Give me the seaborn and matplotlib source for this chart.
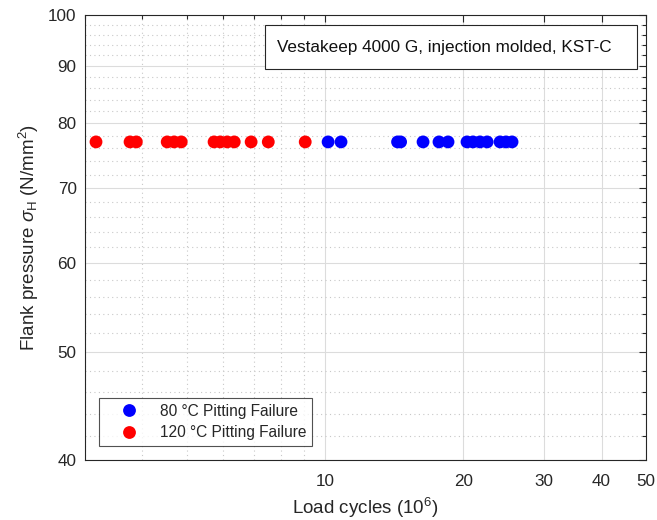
import numpy as np
import pandas as pd
import matplotlib
matplotlib.use('Agg')
import matplotlib.pyplot as plt
from matplotlib.patches import Rectangle
from matplotlib.ticker import FixedLocator, NullFormatter, FixedFormatter
import seaborn as sns

# Load cycles (10^6)
cycles_80 = [10.15, 10.83, 14.38, 14.6, 16.34, 17.7, 18.52, 20.37, 20.99, 21.74,
             22.53, 24.04, 24.77, 25.53]
cycles_120 = [3.17, 3.76, 3.88, 4.53, 4.69, 4.86, 5.73, 5.91, 6.12, 6.34, 6.9,
              7.52, 9.05]
pressure_80 = [77] * len(cycles_80)
pressure_120 = [77] * len(cycles_120)
labels = ['80 °C Pitting Failure', '120 °C Pitting Failure']

x_major = [10, 20, 30, 40, 50]
x_minor = [3, 4, 5, 6, 7, 8, 9]
y_major = [40, 50, 60, 70, 80, 90, 100]
y_minor = [v for v in range(42, 100, 2) if v % 10 != 0]

df = pd.DataFrame({
    'cycles': cycles_80 + cycles_120,
    'pressure': pressure_80 + pressure_120,
    'series': [labels[0]] * len(cycles_80) + [labels[1]] * len(cycles_120),
})

sns.set_style('white')
plt.rcParams['font.family'] = ['Liberation Sans', 'DejaVu Sans']
plt.rcParams['mathtext.fontset'] = 'custom'
plt.rcParams['mathtext.rm'] = 'Liberation Sans'
plt.rcParams['mathtext.it'] = 'Liberation Sans:italic'

fig = plt.figure(figsize=(6.57, 5.2), dpi=100)
ax = fig.add_axes([0.1294, 0.1154, 0.854, 0.8558])

sns.scatterplot(data=df, x='cycles', y='pressure', hue='series',
                palette={labels[0]: '#0000ff', labels[1]: '#ff0000'},
                hue_order=labels, s=85, linewidth=0, ax=ax, zorder=3)

ax.set_xscale('log')
ax.set_yscale('log')
ax.set_xlim(3, 50)
ax.set_ylim(40, 100)

ax.xaxis.set_major_locator(FixedLocator(x_major))
ax.xaxis.set_major_formatter(FixedFormatter([str(v) for v in x_major]))
ax.xaxis.set_minor_locator(FixedLocator(x_minor))
ax.xaxis.set_minor_formatter(NullFormatter())
ax.yaxis.set_major_locator(FixedLocator(y_major))
ax.yaxis.set_major_formatter(FixedFormatter([str(v) for v in y_major]))
ax.yaxis.set_minor_locator(FixedLocator(y_minor))
ax.yaxis.set_minor_formatter(NullFormatter())

ax.grid(True, which='major', color='#dcdcdc', linewidth=0.8, linestyle='-')
ax.grid(True, which='minor', color='#c8c8c8', linewidth=0.8, linestyle=(0, (1, 3)))
ax.set_axisbelow(True)

ax.tick_params(which='both', direction='in', top=True, right=True,
               labelsize=12.3, colors='#262626', width=0.8)
ax.tick_params(which='major', length=5)
ax.tick_params(which='minor', length=3)
ax.tick_params(axis='x', which='major', pad=10)
ax.tick_params(axis='y', which='major', pad=6)
for sp in ax.spines.values():
    sp.set_color('#262626')
    sp.set_linewidth(0.8)

ax.set_xlabel('Load cycles (10$^6$)', fontsize=13.5, color='#262626', labelpad=5)
ax.set_ylabel('Flank pressure $\\it{\\sigma}_\\mathrm{H}$ (N/mm$^2$)', fontsize=13.5,
              color='#262626', labelpad=5)

# annotation box (top right)
ax.add_patch(Rectangle((0.321, 0.879), 0.663, 0.099, transform=ax.transAxes,
                       facecolor='white', edgecolor='#262626', linewidth=0.8, zorder=4))
ax.text(0.342, 0.928, 'Vestakeep 4000 G, injection molded, KST-C', transform=ax.transAxes,
        ha='left', va='center', fontsize=12.3, color='#111111', zorder=5)

leg = ax.legend(loc='lower left', bbox_to_anchor=(0.025, 0.031), fontsize=11.2,
                frameon=True, fancybox=False, edgecolor='#262626',
                handletextpad=0.4, handlelength=3.1, borderpad=0.4,
                labelspacing=0.4, borderaxespad=0)
leg.get_frame().set_linewidth(0.8)

fig.savefig('out.png', dpi=100)
